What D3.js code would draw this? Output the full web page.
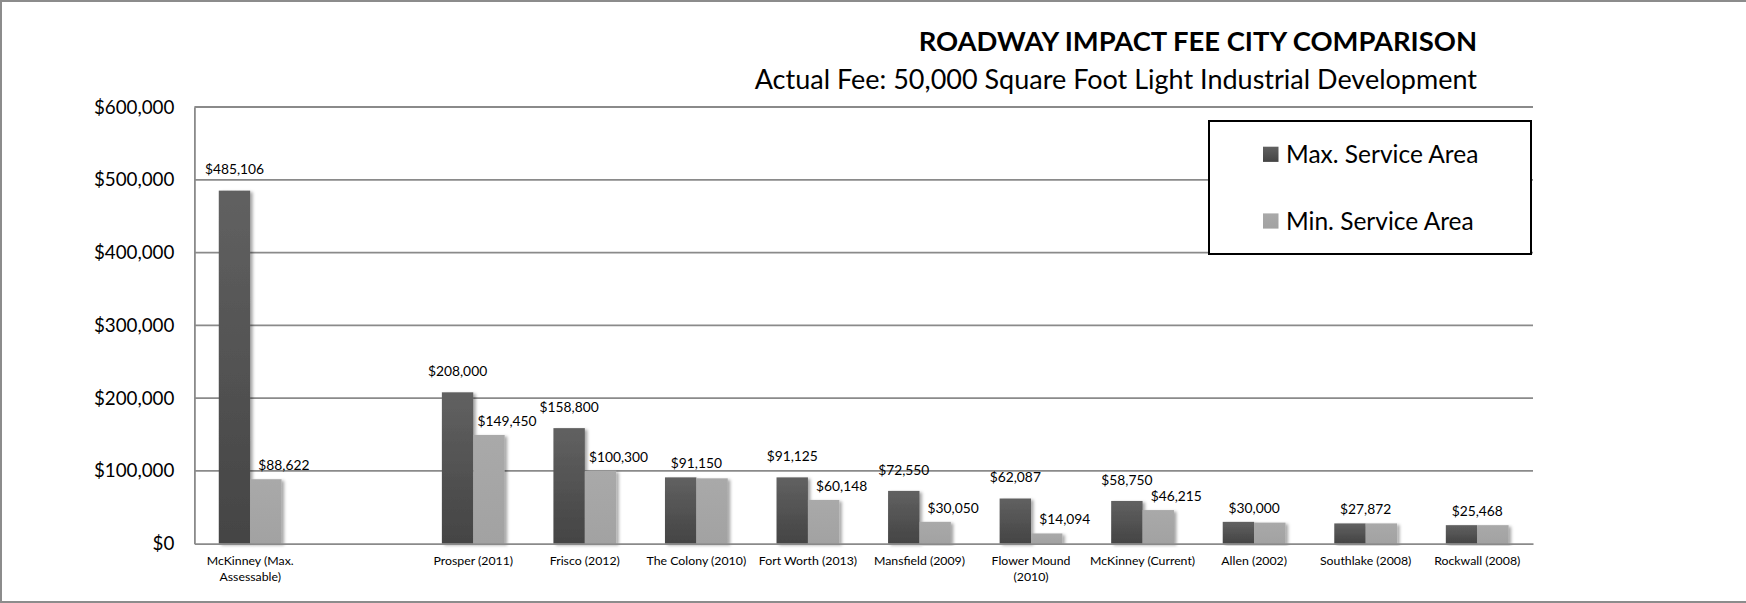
<!DOCTYPE html>
<html>
<head>
<meta charset="utf-8">
<script src="https://cdn.jsdelivr.net/npm/d3@7"></script>
<style>
  body { margin: 0; background: #fff; }
  svg text { font-family: Lato, "Open Sans", sans-serif; fill: #000; }
</style>
</head>
<body>
<div id="chart"></div>
<script>
// chart data
var categories = ["McKinney (Max.\nAssessable)", "", "Prosper (2011)", "Frisco (2012)", "The Colony (2010)",
  "Fort Worth (2013)", "Mansfield (2009)", "Flower Mound\n(2010)", "McKinney (Current)",
  "Allen (2002)", "Southlake (2008)", "Rockwall (2008)"];
var maxArea = [485106, null, 208000, 158800, 91150, 91125, 72550, 62087, 58750, 30000, 27872, 25468];
var minArea = [88622, null, 149450, 100300, 89800, 60148, 30050, 14094, 46215, 29000, 27872, 25468];
var seriesNames = ["Max. Service Area", "Min. Service Area"];
var yTicks = [0, 100000, 200000, 300000, 400000, 500000, 600000];

var svgWidth = 1746;
var svgHeight = 603;

// plot area
var plot = { left: 194.4, right: 1533, top: 107, bottom: 543.7 };

var svg = d3.select("#chart")
  .append("svg")
  .attr("width", svgWidth)
  .attr("height", svgHeight);

// gradients + shadow for the bars
var defs = svg.append("defs");
var gDark = defs.append("linearGradient").attr("id", "gDark").attr("x1", 0).attr("y1", 0).attr("x2", 0).attr("y2", 1);
gDark.append("stop").attr("offset", "0%").attr("stop-color", "#616161");
gDark.append("stop").attr("offset", "100%").attr("stop-color", "#444444");
var gLight = defs.append("linearGradient").attr("id", "gLight").attr("x1", 0).attr("y1", 0).attr("x2", 0).attr("y2", 1);
gLight.append("stop").attr("offset", "0%").attr("stop-color", "#a9a9a9");
gLight.append("stop").attr("offset", "100%").attr("stop-color", "#a2a2a2");
var shadow = defs.append("filter").attr("id", "shadow").attr("x", "-20%").attr("y", "-5%").attr("width", "150%").attr("height", "115%");
shadow.append("feDropShadow").attr("dx", 2.5).attr("dy", 1.5).attr("stdDeviation", 1.6)
  .attr("flood-color", "#000").attr("flood-opacity", 0.35);

// outer frame (top, left, bottom)
svg.append("rect")
  .attr("x", 1).attr("y", 1)
  .attr("width", svgWidth + 10).attr("height", svgHeight - 2)
  .attr("fill", "none").attr("stroke", "#8c8c8c").attr("stroke-width", 2);

// scales
var x = d3.scaleBand()
  .domain(d3.range(categories.length))
  .range([plot.left, plot.right])
  .paddingInner(0.437)
  .paddingOuter(0.2185);

var xInner = d3.scaleBand()
  .domain([0, 1])
  .range([0, x.bandwidth()]);

var y = d3.scaleLinear()
  .domain([0, 600000])
  .range([plot.bottom, plot.top]);

var fmt = d3.format("$,");

// gridlines
svg.append("g").selectAll("line")
  .data(yTicks.filter(d => d > 0))
  .enter()
  .append("line")
  .attr("x1", plot.left).attr("x2", plot.right)
  .attr("y1", d => y(d)).attr("y2", d => y(d))
  .attr("stroke", "#8a8a8a").attr("stroke-width", 1.8);

// y axis
var yAxis = svg.append("g")
  .attr("transform", `translate(${plot.left},0)`)
  .call(d3.axisLeft(y).tickValues(yTicks).tickFormat(fmt).tickSize(0).tickPadding(20));
yAxis.select(".domain").attr("stroke", "#8a8a8a").attr("stroke-width", 1.8);
yAxis.selectAll("text")
  .style("font-size", "18.8px")
  .style("font-family", "Lato, sans-serif")
  .attr("fill", "#000");

// bars
var rows = categories.map((c, i) => ({ i: i, vals: [maxArea[i], minArea[i]] }));
var barGroups = svg.append("g").selectAll("g")
  .data(rows.filter(d => d.vals[0] != null))
  .enter()
  .append("g")
  .attr("transform", d => `translate(${x(d.i)},0)`);

barGroups.selectAll("rect")
  .data(d => d.vals.map((v, k) => ({ k: k, v: v })))
  .enter()
  .append("rect")
  .attr("x", d => xInner(d.k))
  .attr("width", xInner.bandwidth())
  .attr("y", d => y(d.v))
  .attr("height", d => plot.bottom - y(d.v))
  .attr("fill", d => d.k == 0 ? "url(#gDark)" : "url(#gLight)")
  .attr("filter", "url(#shadow)");

// x axis
var xAxis = svg.append("g")
  .attr("transform", `translate(0,${plot.bottom})`)
  .call(d3.axisBottom(x).tickFormat(i => categories[i]).tickSize(0).tickSizeOuter(0));
xAxis.select(".domain").attr("stroke", "#8a8a8a").attr("stroke-width", 1.8);
xAxis.selectAll("text")
  .style("font-size", "12.3px")
  .style("font-family", "Lato, sans-serif")
  .attr("fill", "#000")
  .each(function (i) {
    var t = d3.select(this);
    var lines = categories[i].split("\n");
    t.text(null).attr("y", 21.8).attr("dy", null);
    lines.forEach((ln, k) => {
      t.append("tspan").attr("x", 0).attr("dy", k == 0 ? 0 : 15.3).text(ln);
    });
  });

// data labels: one centred label when both series are (nearly) equal
var labels = [];
rows.forEach(function (d) {
  if (d.vals[0] == null) return;
  var a = d.vals[0], b = d.vals[1];
  var x0 = x(d.i);
  if (Math.abs(a - b) < 2000) {
    labels.push({ v: a, x: x0 + x.bandwidth() / 2, y: y(a) - 14 });
  } else {
    labels.push({ v: a, x: x0 + xInner(0) + xInner.bandwidth() / 2, y: y(a) - 21 });
    labels.push({ v: b, x: x0 + xInner(1) + xInner.bandwidth() / 2 + 18, y: y(b) - 14 });
  }
});

svg.append("g").selectAll("text")
  .data(labels)
  .enter()
  .append("text")
  .attr("x", d => d.x)
  .attr("y", d => d.y)
  .attr("dy", "0.35em")
  .attr("text-anchor", "middle")
  .style("font-size", "13.8px")
  .text(d => fmt(d.v));

// titles
svg.append("text")
  .attr("x", 1477).attr("y", 51)
  .attr("text-anchor", "end")
  .style("font-size", "27.4px")
  .style("font-weight", "bold")
  .text("ROADWAY IMPACT FEE CITY COMPARISON");

svg.append("text")
  .attr("x", 1477).attr("y", 88.5)
  .attr("text-anchor", "end")
  .style("font-size", "27px")
  .text("Actual Fee: 50,000 Square Foot Light Industrial Development");

// legend
var legend = svg.append("g");
legend.append("rect")
  .attr("x", 1209).attr("y", 121)
  .attr("width", 322).attr("height", 133)
  .attr("fill", "#fff").attr("stroke", "#000").attr("stroke-width", 2);

var items = legend.selectAll("g.item")
  .data(seriesNames)
  .enter()
  .append("g")
  .attr("class", "item")
  .attr("transform", (d, k) => `translate(1263,${154.3 + k * 66.7})`);

items.append("rect")
  .attr("x", 0).attr("y", -7.6)
  .attr("width", 15.5).attr("height", 15.2)
  .attr("fill", (d, k) => k == 0 ? "url(#gDark)" : "url(#gLight)");

items.append("text")
  .attr("x", 23).attr("y", 0)
  .attr("dy", "0.35em")
  .style("font-size", "24.5px")
  .text(d => d);
</script>
</body>
</html>
